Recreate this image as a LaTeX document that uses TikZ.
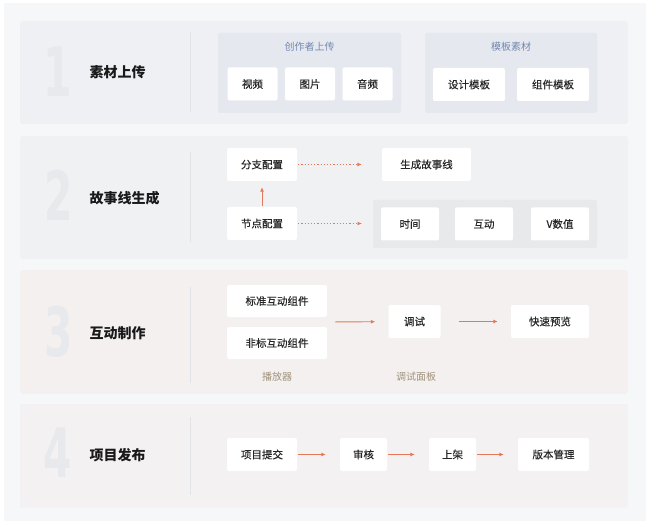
\documentclass[tikz,border=0pt]{standalone}
\usepackage{fontspec}
\setmainfont{Noto Sans CJK SC}
\newfontfamily\cardfont[FakeBold=0.35]{Noto Sans CJK SC}
\newfontfamily\numfont{DejaVu Sans}
\usetikzlibrary{arrows.meta,calc}
\definecolor{pagebg}{HTML}{F6F7F9}
\definecolor{bgone}{HTML}{EEF0F4}
\definecolor{bgtwo}{HTML}{F0F1F3}
\definecolor{bgthree}{HTML}{F4F0F0}
\definecolor{bgfour}{HTML}{F3F1F2}
\definecolor{groupblue}{HTML}{E5E8EF}
\definecolor{groupgray}{HTML}{E8E9EB}
\definecolor{titleblue}{HTML}{7388B0}
\definecolor{titlebrown}{HTML}{A0937A}
\definecolor{numgray}{HTML}{E8E9ED}
\definecolor{rulegray}{HTML}{E2E3E7}
\definecolor{arrowc}{HTML}{E5785A}
\tikzset{
  panel/.style={fill=#1,rounded corners=3pt},
  group/.style={fill=#1,rounded corners=2pt},
  card/.style={fill=white,rounded corners=2pt,minimum height=33pt,minimum width=#1,
    inner sep=0pt,text=black!85,font=\cardfont\fontsize{10.5}{12}\selectfont},
  card/.default=50pt,
  stage/.style={anchor=west,text=black!90,font=\bfseries\fontsize{14}{16}\selectfont},
  bignum/.style={text=numgray,xscale=0.6,font=\numfont\bfseries\fontsize{68}{68}\selectfont},
  note/.style={text=#1,font=\fontsize{10}{12}\selectfont},
  divider/.style={draw=rulegray,line width=0.8pt},
  flow/.style={draw=arrowc,line width=0.9pt,-{Latex[length=4.5pt,width=4pt]}},
  dots/.style={flow,dash pattern=on 1.2pt off 2pt}
}

\begin{document}
\begin{tikzpicture}[x=1pt,y=-1pt]
  \useasboundingbox (0,0) rectangle (650,529);
  \fill[white] (0,0) rectangle (650,529);
  \fill[pagebg] (4,3) rectangle (646,521);

  % four stages
  \fill[panel=bgone] (20,21) rectangle (628,124);
  \fill[panel=bgtwo] (20,136) rectangle (628,259);
  \fill[panel=bgthree] (20,270) rectangle (628,394);
  \fill[panel=bgfour] (20,404) rectangle (628,508);

  \node[bignum] (n1) at (58,72) {1};
  \node[bignum] (n2) at (59,195) {2};
  \node[bignum] (n3) at (59,332) {3};
  \node[bignum] (n4) at (58,453) {4};

  \node[stage] (s1) at (86,72) {素材上传};
  \node[stage] (s2) at (86,198) {故事线生成};
  \node[stage] (s3) at (86,333) {互动制作};
  \node[stage] (s4) at (86,455) {项目发布};

  \draw[divider] (190,32) -- (190,112);
  \draw[divider] (190,152) -- (190,242);
  \draw[divider] (190,287) -- (190,383);
  \draw[divider] (190,417) -- (190,495);

  % 1
  \fill[group=groupblue] (218,33) rectangle (401,113);
  \fill[group=groupblue] (425,33) rectangle (597,113);
  \node[note=titleblue] (t1) at (309.5,47) {创作者上传};
  \node[note=titleblue] (t2) at (511,47) {模板素材};
  \node[card] (video) at (252.5,84) {视频};
  \node[card] (image) at (310,84) {图片};
  \node[card] (audio) at (367.5,84) {音频};
  \node[card=72pt] (design) at (469,84.5) {设计模板};
  \node[card=72pt] (comp) at (553,84.5) {组件模板};

  % 2
  \node[card=70pt] (branch) at (262,164.5) {分支配置};
  \node[card=89pt] (story) at (426.5,164.5) {生成故事线};
  \node[card=70pt] (knot) at (262,223.5) {节点配置};
  \fill[group=groupgray] (373,200) rectangle (597,248);
  \coordinate (props) at (373,223.5);
  \node[card=58pt] (time) at (410,224) {时间};
  \node[card=58pt] (act) at (484,224) {互动};
  \node[card=58pt] (vval) at (560,224) {V数值};
  \draw[dots, shorten <=1pt, shorten >=20pt] (branch) -- (story);
  \draw[dots, shorten <=1pt, shorten >=11pt] (knot.east) -- (props);
  \draw[flow, shorten <=1pt, shorten >=6pt] (knot) -- (branch);

  % 3
  \node[card=100pt, minimum height=32pt] (std) at (277,301) {标准互动组件};
  \node[card=100pt, minimum height=32pt] (nstd) at (277,343) {非标互动组件};
  \node[card=52pt] (debug) at (414.5,321.5) {调试};
  \node[card=78pt] (preview) at (550,321.5) {快速预览};
  \node[note=titlebrown] (player) at (277,377) {播放器};
  \node[note=titlebrown] (panel) at (416,377) {调试面板};
  \coordinate (mid) at ($(std.south east)!0.5!(nstd.north east)$);
  \draw[flow, shorten <=8pt, shorten >=13pt] (mid) -- (debug);
  \draw[flow, shorten <=18pt, shorten >=13pt] (debug) -- (preview);

  % 4
  \node[card=70pt] (submit) at (262,454.5) {项目提交};
  \node[card=47pt] (review) at (363.5,454.5) {审核};
  \node[card=47pt] (shelf) at (452.5,454.5) {上架};
  \node[card=71pt] (version) at (553.5,454.5) {版本管理};
  \draw[flow, shorten <=1pt, shorten >=14pt] (submit) -- (review);
  \draw[flow, shorten <=1pt, shorten >=14pt] (review) -- (shelf);
  \draw[flow, shorten <=1pt, shorten >=14pt] (shelf) -- (version);
\end{tikzpicture}
\end{document}
